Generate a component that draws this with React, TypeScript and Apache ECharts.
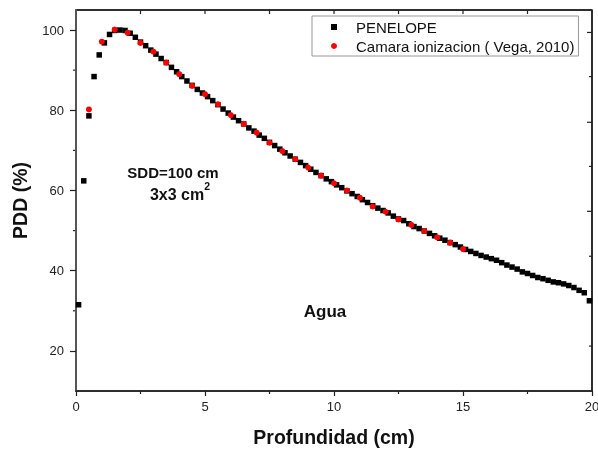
import React, { useEffect, useRef } from "react";
import * as echarts from "echarts";

const FONT = "'Liberation Sans', Arial, Helvetica, sans-serif";

// PENELOPE simulation: depth (cm) and PDD (%)
const penDepth = [
  0.1, 0.3, 0.5, 0.7, 0.9, 1.1, 1.3, 1.5, 1.7, 1.9,
  2.1, 2.3, 2.5, 2.7, 2.9, 3.1, 3.3, 3.5, 3.7, 3.9,
  4.1, 4.3, 4.5, 4.7, 4.9, 5.1, 5.3, 5.5, 5.7, 5.9,
  6.1, 6.3, 6.5, 6.7, 6.9, 7.1, 7.3, 7.5, 7.7, 7.9,
  8.1, 8.3, 8.5, 8.7, 8.9, 9.1, 9.3, 9.5, 9.7, 9.9,
  10.1, 10.3, 10.5, 10.7, 10.9, 11.1, 11.3, 11.5, 11.7, 11.9,
  12.1, 12.3, 12.5, 12.7, 12.9, 13.1, 13.3, 13.5, 13.7, 13.9,
  14.1, 14.3, 14.5, 14.7, 14.9, 15.1, 15.3, 15.5, 15.7, 15.9,
  16.1, 16.3, 16.5, 16.7, 16.9, 17.1, 17.3, 17.5, 17.7, 17.9,
  18.1, 18.3, 18.5, 18.7, 18.9, 19.1, 19.3, 19.5, 19.7, 19.9,
];
const penPdd = [
  31.5, 62.4, 78.6, 88.4, 93.8, 96.8, 98.9, 99.9, 100.0, 99.9,
  99.2, 98.2, 97.0, 96.1, 95.0, 94.0, 92.9, 91.9, 90.7, 89.6,
  88.4, 87.3, 86.2, 85.2, 84.3, 83.4, 82.4, 81.4, 80.3, 79.3,
  78.3, 77.4, 76.6, 75.6, 74.8, 73.8, 73.0, 72.0, 71.2, 70.3,
  69.4, 68.6, 67.8, 67.0, 66.2, 65.3, 64.5, 63.7, 62.9, 62.2,
  61.4, 60.7, 59.9, 59.2, 58.5, 57.7, 57.0, 56.2, 55.6, 55.0,
  54.4, 53.6, 52.9, 52.5, 51.7, 51.0, 50.5, 49.9, 49.3, 48.7,
  48.1, 47.6, 47.0, 46.5, 45.9, 45.3, 44.8, 44.3, 43.8, 43.4,
  43.0, 42.6, 42.0, 41.4, 40.9, 40.4, 39.7, 39.3, 38.8, 38.3,
  38.0, 37.6, 37.2, 37.0, 36.7, 36.3, 35.8, 35.1, 34.5, 32.5,
];

// Ionization chamber (Vega, 2010)
const camDepth = [
  0.5, 1.0, 1.5, 2.0, 2.5, 3.0, 3.5, 4.0, 4.5, 5.0,
  5.5, 6.0, 6.5, 7.0, 7.5, 8.0, 8.5, 9.0, 9.5, 10.0,
  10.5, 11.0, 11.5, 12.0, 12.5, 13.0, 13.5, 14.0, 14.5, 15.0,
];
const camPdd = [
  80.2, 97.1, 100.1, 99.3, 96.8, 94.6, 91.9, 89.0, 86.1, 84.0,
  81.5, 78.8, 76.6, 74.4, 71.9, 69.8, 67.8, 65.7, 63.7, 61.8,
  60.0, 58.2, 56.0, 54.7, 52.8, 51.4, 49.9, 48.3, 47.0, 45.4,
];

// Tick positions (axis values)
const yMajorTicks = [20, 40, 60, 80, 100];
const yMinorTicks = [30, 50, 70, 90];
const topTicks = [2.5, 5, 7.5, 10, 12.5, 15, 17.5];
// right frame ticks (in PDD units), long / short alternating as in the original
const rightLongTicks = [32.4, 54.8, 77.0, 99.4];
const rightShortTicks = [21.2, 43.6, 66.0, 88.4];

const seriesNames = ["PENELOPE", "Camara ionizacion ( Vega, 2010)"];

export default function App() {
  const ref = useRef<HTMLDivElement>(null);

  useEffect(() => {
    const chart = echarts.init(ref.current!, null, { renderer: "svg" });
    const axisLineStyle = () => ({ color: "#222", width: 1.5 });
    const tickStyle = () => ({ color: "#222", width: 1.2 });
    const textBase = {
      fontWeight: "bold",
      fontFamily: FONT,
      fill: "#111",
      align: "center",
      verticalAlign: "middle",
      textAlign: "center",
      textVerticalAlign: "middle",
    };
    chart.setOption({
      animation: false,
      grid: {
        left: 76,
        right: 6,
        top: 10,
        bottom: 64,
        outerBoundsMode: "none",
        show: true,
        borderColor: "#222",
        borderWidth: 1.5,
      },
      legend: {
        orient: "vertical",
        left: 312,
        top: 16,
        padding: [3, 4, 2, 19],
        itemGap: 3,
        itemWidth: 6,
        itemHeight: 6,
        backgroundColor: "#fff",
        borderColor: "#999",
        borderWidth: 1,
        textStyle: { fontSize: 15, lineHeight: 16, color: "#111", fontFamily: FONT, padding: [0, 0, 0, 14] },
        data: [
          { name: seriesNames[0], icon: "rect" },
          { name: seriesNames[1], icon: "circle" },
        ],
      },
      xAxis: {
        type: "value",
        position: "bottom",
        min: 0,
        max: 20,
        interval: 5,
        axisLine: { show: true, onZero: false, lineStyle: axisLineStyle() },
        axisTick: { show: true, inside: false, length: 5, lineStyle: tickStyle() },
        minorTick: { show: true, splitNumber: 2, length: 3, lineStyle: tickStyle() },
        axisLabel: { color: "#222", fontSize: 13, margin: 9, fontFamily: FONT },
        splitLine: { show: false },
        name: "Profundidad (cm)",
        nameLocation: "middle",
        nameGap: 36,
        nameTextStyle: { fontWeight: "bold", fontSize: 19.5, color: "#111", fontFamily: FONT },
      },
      yAxis: {
        type: "value",
        position: "left",
        min: 10,
        max: 105,
        axisLine: { show: true, onZero: false, lineStyle: { color: "#555", width: 2 } },
        axisTick: { show: true, inside: false, length: 6, lineStyle: tickStyle(), customValues: yMajorTicks },
        axisLabel: { color: "#222", fontSize: 13, margin: 12, fontFamily: FONT, customValues: yMajorTicks },
        splitLine: { show: false },
        name: "PDD (%)",
        nameLocation: "middle",
        nameGap: 46,
        nameTextStyle: { fontWeight: "bold", fontSize: 19.5, color: "#111", fontFamily: FONT },
      },
      series: [
        {
          type: "scatter",
          name: seriesNames[0],
          symbol: "rect",
          symbolSize: 5.5,
          itemStyle: { color: "#000", opacity: 1 },
          data: penDepth.map((d, i) => [d, penPdd[i]]),
        },
        {
          type: "scatter",
          name: seriesNames[1],
          symbol: "circle",
          symbolSize: 6,
          itemStyle: { color: "#ff0000", opacity: 1 },
          data: camDepth.map((d, i) => [d, camPdd[i]]),
        },
      ],
    });

    // frame lines and ticks on the top/right sides, minor ticks on the left, placed via the chart's own scales
    const px = (v: number) => chart.convertToPixel({ xAxisIndex: 0 }, v) as number;
    const py = (v: number) => chart.convertToPixel({ yAxisIndex: 0 }, v) as number;
    const yTop = py(105);
    const yBottom = py(10);
    const xLeft = px(0);
    const xRight = px(20);
    const seg = (x1: number, y1: number, x2: number, y2: number, w: number) => ({
      type: "line",
      shape: { x1, y1, x2, y2 },
      style: { stroke: "#222", lineWidth: w },
    });
    const frame: any[] = [
      seg(xLeft, yTop, xRight, yTop, 1.5),
      seg(xRight, yTop, xRight, yBottom, 1.5),
    ];
    topTicks.forEach((v) => frame.push(seg(px(v), yTop, px(v), yTop + 4, 1.2)));
    rightLongTicks.forEach((v) => frame.push(seg(xRight, py(v), xRight - 5, py(v), 1.2)));
    rightShortTicks.forEach((v) => frame.push(seg(xRight, py(v), xRight - 3, py(v), 1.2)));
    yMinorTicks.forEach((v) => frame.push(seg(xLeft, py(v), xLeft - 3, py(v), 1.2)));

    chart.setOption({
      graphic: [
        ...frame,
        {
          type: "text",
          x: 173,
          y: 172,
          style: { ...textBase, text: "SDD=100 cm", fontSize: 15 },
        },
        {
          type: "text",
          x: 180,
          y: 191,
          style: {
            ...textBase,
            text: "{b|3x3 cm}{s|2}",
            fontSize: 16,
            rich: {
              b: { fontSize: 16, fontWeight: "bold", fontFamily: FONT, fill: "#111", lineHeight: 22, verticalAlign: "bottom" },
              s: { fontSize: 10.5, fontWeight: "bold", fontFamily: FONT, fill: "#111", lineHeight: 22, verticalAlign: "top" },
            },
          },
        },
        {
          type: "text",
          x: 325,
          y: 311,
          style: { ...textBase, text: "Agua", fontSize: 17 },
        },
      ],
    });
    return () => chart.dispose();
  }, []);

  return (
    <div
      ref={ref}
      style={{ position: "fixed", left: 0, top: 0, width: 598, height: 455 }}
    />
  );
}
